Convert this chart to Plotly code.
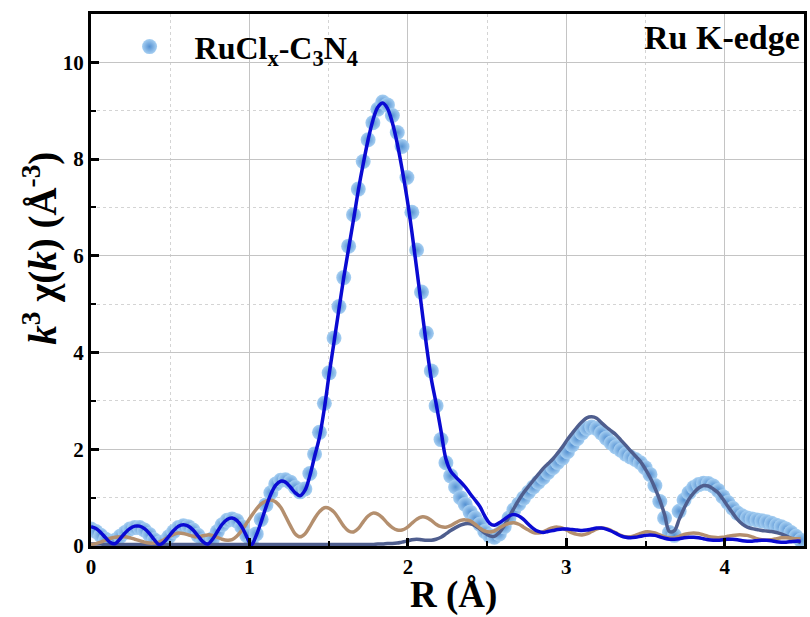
import plotly.graph_objects as go

# Sampling grid of the Fourier transform, R in angstrom
r_grid = [
    0.000, 0.031, 0.061, 0.092, 0.123, 0.153, 0.184, 0.215, 0.245, 0.276,
    0.307, 0.337, 0.368, 0.399, 0.430, 0.460, 0.491, 0.522, 0.552, 0.583,
    0.614, 0.644, 0.675, 0.706, 0.736, 0.767, 0.798, 0.828, 0.859, 0.890,
    0.920, 0.951, 0.982, 1.012, 1.043, 1.074, 1.104, 1.135, 1.166, 1.197,
    1.227, 1.258, 1.289, 1.319, 1.350, 1.381, 1.411, 1.442, 1.473, 1.503,
    1.534, 1.565, 1.595, 1.626, 1.657, 1.687, 1.718, 1.749, 1.779, 1.810,
    1.841, 1.871, 1.902, 1.933, 1.963, 1.994, 2.025, 2.055, 2.086, 2.117,
    2.148, 2.178, 2.209, 2.240, 2.270, 2.301, 2.332, 2.362, 2.393, 2.424,
    2.454, 2.485, 2.516, 2.546, 2.577, 2.608, 2.638, 2.669, 2.700, 2.730,
    2.761, 2.792, 2.823, 2.853, 2.884, 2.915, 2.945, 2.976, 3.007, 3.037,
    3.068, 3.099, 3.129, 3.160, 3.191, 3.221, 3.252, 3.283, 3.313, 3.344,
    3.375, 3.405, 3.436, 3.467, 3.497, 3.528, 3.559, 3.590, 3.620, 3.651,
    3.682, 3.712, 3.743, 3.774, 3.804, 3.835, 3.866, 3.896, 3.927, 3.958,
    3.988, 4.019, 4.050, 4.080, 4.111, 4.142, 4.172, 4.203, 4.234, 4.264,
    4.295, 4.326, 4.356, 4.387, 4.418, 4.449, 4.479,
]

# Measured |chi(R)| of RuClx-C3N4
measured = [
    0.35, 0.30, 0.22, 0.14, 0.10, 0.12, 0.20, 0.28, 0.35, 0.38,
    0.38, 0.33, 0.24, 0.13, 0.06, 0.09, 0.19, 0.30, 0.38, 0.42,
    0.40, 0.33, 0.22, 0.11, 0.07, 0.15, 0.30, 0.44, 0.53, 0.56,
    0.52, 0.40, 0.22, 0.06, 0.25, 0.55, 0.85, 1.10, 1.28, 1.36,
    1.37, 1.32, 1.21, 1.12, 1.18, 1.50, 1.90, 2.35, 2.95, 3.58,
    4.30, 4.95, 5.55, 6.20, 6.85, 7.38, 7.95, 8.40, 8.75, 9.03,
    9.18, 9.12, 8.90, 8.55, 8.26, 7.62, 6.90, 6.12, 5.25, 4.40,
    3.62, 2.90, 2.20, 1.72, 1.45, 1.22, 1.00, 0.86, 0.70, 0.58,
    0.45, 0.30, 0.21, 0.18, 0.25, 0.40, 0.58, 0.75, 0.87, 0.99,
    1.11, 1.22, 1.32, 1.41, 1.52, 1.62, 1.73, 1.82, 1.95, 2.09,
    2.22, 2.34, 2.43, 2.46, 2.43, 2.34, 2.23, 2.13, 2.05, 1.98,
    1.90, 1.84, 1.79, 1.72, 1.62, 1.48, 1.25, 0.92, 0.58, 0.28,
    0.22, 0.72, 0.95, 1.10, 1.21, 1.27, 1.30, 1.29, 1.24, 1.15,
    1.02, 0.90, 0.78, 0.68, 0.62, 0.58, 0.56, 0.54, 0.52, 0.50,
    0.47, 0.43, 0.40, 0.35, 0.28, 0.20, 0.12,
]

# Total fit
fit_total = [
    0.40, 0.36, 0.28, 0.17, 0.07, 0.05, 0.15, 0.27, 0.36, 0.41,
    0.41, 0.36, 0.26, 0.13, 0.03, 0.08, 0.20, 0.32, 0.41, 0.44,
    0.41, 0.33, 0.21, 0.09, 0.04, 0.14, 0.30, 0.45, 0.55, 0.58,
    0.53, 0.40, 0.20, 0.02, 0.22, 0.50, 0.80, 1.07, 1.26, 1.34,
    1.32, 1.22, 1.10, 1.04, 1.15, 1.45, 1.85, 2.25, 2.85, 3.55,
    4.22, 4.90, 5.55, 6.15, 6.75, 7.35, 7.90, 8.40, 8.80, 9.07,
    9.16, 9.05, 8.75, 8.32, 7.80, 7.20, 6.50, 5.75, 4.95, 4.15,
    3.45, 2.95, 2.38, 1.80, 1.55, 1.43, 1.33, 1.22, 1.08, 0.95,
    0.82, 0.62, 0.47, 0.43, 0.48, 0.55, 0.62, 0.65, 0.62, 0.55,
    0.45, 0.36, 0.30, 0.28, 0.30, 0.32, 0.34, 0.35, 0.35, 0.34,
    0.33, 0.32, 0.33, 0.35, 0.37, 0.37, 0.35, 0.31, 0.26, 0.21,
    0.18, 0.17, 0.18, 0.20, 0.22, 0.23, 0.22, 0.19, 0.16, 0.14,
    0.14, 0.15, 0.17, 0.18, 0.18, 0.17, 0.15, 0.13, 0.12, 0.12,
    0.13, 0.14, 0.14, 0.13, 0.11, 0.10, 0.10, 0.11, 0.12, 0.12,
    0.11, 0.09, 0.08, 0.08, 0.09, 0.10, 0.10,
]

# Outer-shell path contribution
path_outer = [
    0.04, 0.04, 0.04, 0.03, 0.03, 0.03, 0.03, 0.03, 0.03, 0.03,
    0.03, 0.03, 0.03, 0.03, 0.03, 0.03, 0.03, 0.03, 0.03, 0.03,
    0.03, 0.03, 0.03, 0.03, 0.03, 0.03, 0.03, 0.03, 0.03, 0.03,
    0.03, 0.03, 0.03, 0.03, 0.03, 0.03, 0.03, 0.03, 0.03, 0.03,
    0.03, 0.03, 0.03, 0.03, 0.03, 0.03, 0.03, 0.03, 0.03, 0.03,
    0.03, 0.03, 0.03, 0.03, 0.03, 0.03, 0.03, 0.03, 0.03, 0.04,
    0.04, 0.05, 0.05, 0.06, 0.08, 0.10, 0.13, 0.14, 0.13, 0.12,
    0.12, 0.14, 0.18, 0.25, 0.32, 0.38, 0.43, 0.46, 0.46, 0.42,
    0.35, 0.27, 0.21, 0.20, 0.28, 0.42, 0.60, 0.78, 0.95, 1.10,
    1.23, 1.36, 1.48, 1.60, 1.70, 1.80, 1.92, 2.05, 2.20, 2.33,
    2.46, 2.57, 2.65, 2.67, 2.64, 2.55, 2.46, 2.38, 2.30, 2.19,
    2.08, 1.97, 1.86, 1.75, 1.60, 1.42, 1.20, 0.95, 0.65, 0.30,
    0.32, 0.55, 0.78, 0.97, 1.10, 1.20, 1.25, 1.24, 1.18, 1.10,
    0.97, 0.82, 0.68, 0.55, 0.45, 0.39, 0.36, 0.34, 0.32, 0.31,
    0.30, 0.28, 0.25, 0.21, 0.16, 0.11, 0.07,
]

# Residual between data and fit
residual = [
    0.03, 0.05, 0.08, 0.12, 0.16, 0.18, 0.19, 0.19, 0.17, 0.14,
    0.11, 0.08, 0.06, 0.06, 0.08, 0.13, 0.19, 0.24, 0.27, 0.26,
    0.23, 0.20, 0.19, 0.21, 0.23, 0.22, 0.18, 0.14, 0.12, 0.13,
    0.20, 0.32, 0.47, 0.62, 0.76, 0.87, 0.93, 0.95, 0.91, 0.80,
    0.62, 0.42, 0.25, 0.19, 0.25, 0.40, 0.57, 0.71, 0.79, 0.78,
    0.70, 0.56, 0.41, 0.31, 0.29, 0.36, 0.50, 0.62, 0.68, 0.66,
    0.58, 0.47, 0.38, 0.33, 0.33, 0.38, 0.47, 0.55, 0.60, 0.59,
    0.53, 0.45, 0.40, 0.39, 0.42, 0.48, 0.53, 0.54, 0.52, 0.45,
    0.37, 0.31, 0.29, 0.31, 0.37, 0.43, 0.47, 0.48, 0.45, 0.39,
    0.33, 0.28, 0.27, 0.29, 0.34, 0.38, 0.39, 0.37, 0.32, 0.27,
    0.24, 0.23, 0.25, 0.30, 0.35, 0.37, 0.36, 0.32, 0.27, 0.22,
    0.19, 0.19, 0.22, 0.26, 0.29, 0.29, 0.27, 0.23, 0.19, 0.17,
    0.17, 0.20, 0.24, 0.26, 0.27, 0.26, 0.23, 0.20, 0.18, 0.17,
    0.18, 0.20, 0.22, 0.23, 0.23, 0.22, 0.19, 0.15, 0.13, 0.12,
    0.13, 0.15, 0.17, 0.17, 0.16, 0.15, 0.15,
]

x_ticks = [0, 1, 2, 3, 4]
y_ticks = [0, 2, 4, 6, 8, 10]

FONT = "Liberation Serif"

fig = go.Figure()

fig.add_trace(go.Scatter(
    x=r_grid, y=measured, mode="markers",
    name="RuCl<sub>x</sub>-C<sub>3</sub>N<sub>4</sub>",
    marker=dict(size=15, color="#a6cff2",
                gradient=dict(type="radial", color="#5591d2"),
                line=dict(width=0)),
))
fig.add_trace(go.Scatter(
    x=r_grid, y=path_outer, mode="lines", showlegend=False,
    line=dict(color="#4f5e8e", width=3.5, shape="spline"),
))
fig.add_trace(go.Scatter(
    x=r_grid, y=residual, mode="lines", showlegend=False,
    line=dict(color="#b48f6e", width=3.5, shape="spline"),
))
fig.add_trace(go.Scatter(
    x=r_grid, y=fit_total, mode="lines", showlegend=False,
    line=dict(color="#0a0ad2", width=3.5, shape="spline"),
))

axis_common = dict(
    showline=True, linecolor="black", linewidth=3, mirror=True,
    ticks="inside", ticklen=8, tickwidth=3, tickcolor="black",
    showgrid=True, gridcolor="#c4c4c4", gridwidth=1,
    zeroline=False,
    tickfont=dict(family=FONT, size=21, color="black", weight="bold"),
)
minor_common = dict(ticks="inside", ticklen=5, tickwidth=2, tickcolor="black",
                    showgrid=True, gridcolor="#d4d4d4",
                    griddash="3px,3px", gridwidth=1)

fig.update_xaxes(range=[0, 4.5], tickvals=x_ticks,
                 minor=dict(dtick=0.5, **minor_common), **axis_common)
fig.update_yaxes(range=[0, 11], tickvals=y_ticks,
                 minor=dict(dtick=1, **minor_common), **axis_common)

# Axis titles
fig.add_annotation(
    text="R (Å)", xref="paper", yref="paper", x=0.508, y=-0.093,
    xanchor="center", yanchor="middle", showarrow=False,
    font=dict(family=FONT, size=37, color="black", weight="bold"),
)
fig.add_annotation(
    text="<i>k</i><sup>3</sup> χ(<i>k</i>) (Å<sup>-3</sup>)",
    xref="paper", yref="paper", x=-0.072, y=0.56, textangle=-90,
    xanchor="center", yanchor="middle", showarrow=False,
    font=dict(family=FONT, size=39, color="black", weight="bold"),
)

fig.add_annotation(
    text="Ru K-edge", xref="paper", yref="paper", x=0.997, y=0.955,
    xanchor="right", yanchor="middle", showarrow=False,
    font=dict(family=FONT, size=34, color="black", weight="bold"),
)

fig.update_layout(
    width=810, height=617,
    margin=dict(l=91, r=3, t=14, b=71),
    plot_bgcolor="white", paper_bgcolor="white",
    legend=dict(x=0.019, y=0.99, xanchor="left", yanchor="top",
                bgcolor="rgba(0,0,0,0)", itemwidth=80,
                font=dict(family=FONT, size=32, color="black", weight="bold")),
)

fig.write_html("out.html")
